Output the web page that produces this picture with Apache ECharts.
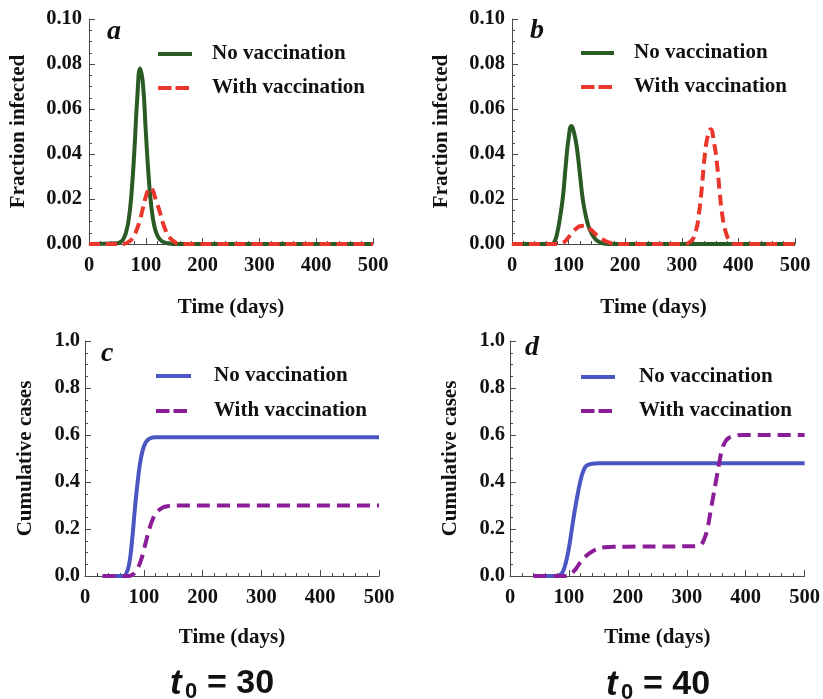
<!DOCTYPE html>
<html>
<head>
<meta charset="utf-8">
<script src="https://cdn.jsdelivr.net/npm/echarts@6/dist/echarts.min.js"></script>
<style>
  html, body { margin: 0; padding: 0; background: #ffffff; }
  #chart { width: 823px; height: 699px; }
</style>
</head>
<body>
<div id="chart"></div>
<script>
// ---- Panel a (t0 = 30): fraction infected ----
const daysANo = [0, 50, 55, 60, 65, 70, 75, 80, 85, 90, 95, 100, 105, 110, 115, 120, 125, 130, 140, 150, 500];
const infANo  = [0, 0.0003, 0.0008, 0.002, 0.005, 0.011, 0.023, 0.042, 0.065, 0.078, 0.071, 0.05, 0.03, 0.016, 0.008, 0.004, 0.002, 0.001, 0.0002, 0, 0];
const daysAVac = [0, 60, 70, 75, 80, 85, 90, 95, 100, 105, 108, 112, 116, 120, 125, 130, 135, 140, 150, 160, 500];
const infAVac  = [0, 0, 0.001, 0.002, 0.004, 0.007, 0.011, 0.016, 0.021, 0.0245, 0.025, 0.024, 0.021, 0.018, 0.014, 0.0095, 0.006, 0.0035, 0.001, 0, 0];

// ---- Panel b (t0 = 40): fraction infected ----
const daysBNo = [0, 70, 75, 80, 85, 90, 95, 100, 105, 110, 115, 120, 125, 130, 135, 140, 145, 150, 160, 170, 500];
const infBNo  = [0, 0, 0.001, 0.005, 0.012, 0.021, 0.035, 0.047, 0.0525, 0.049, 0.042, 0.031, 0.02, 0.013, 0.008, 0.005, 0.003, 0.0015, 0.0003, 0, 0];
const daysBVac = [0, 80, 88, 95, 100, 105, 110, 115, 120, 126, 132, 138, 145, 152, 160, 168, 176, 185,
                  300, 315, 325, 330, 335, 340, 345, 351, 357, 362, 367, 372, 378, 385, 395, 500];
const infBVac  = [0, 0, 0.0003, 0.0015, 0.003, 0.0045, 0.006, 0.0072, 0.0079, 0.0081, 0.0077, 0.0066, 0.005, 0.0034, 0.002, 0.001, 0.0003, 0,
                  0, 0.001, 0.006, 0.013, 0.024, 0.038, 0.047, 0.051, 0.045, 0.036, 0.023, 0.012, 0.005, 0.0015, 0, 0];

// ---- Panel c (t0 = 30): cumulative cases ----
const daysCNo = [30, 65, 70, 75, 80, 85, 90, 95, 100, 105, 110, 120, 130, 500];
const cumCNo  = [0, 0, 0.01, 0.05, 0.15, 0.29, 0.41, 0.5, 0.55, 0.575, 0.585, 0.59, 0.59, 0.59];
const daysCVac = [30, 75, 80, 85, 90, 95, 100, 105, 110, 115, 120, 130, 140, 150, 500];
const cumCVac  = [0, 0, 0.005, 0.015, 0.035, 0.065, 0.11, 0.16, 0.205, 0.24, 0.265, 0.288, 0.297, 0.3, 0.3];

// ---- Panel d (t0 = 40): cumulative cases ----
const daysDNo = [40, 80, 85, 90, 95, 100, 105, 110, 115, 120, 125, 130, 140, 150, 500];
const cumDNo  = [0, 0, 0.005, 0.02, 0.06, 0.12, 0.2, 0.28, 0.35, 0.41, 0.45, 0.47, 0.478, 0.48, 0.48];
const daysDVac = [40, 93, 100, 110, 120, 130, 140, 150, 160, 175, 200, 320, 325, 330, 335, 340, 345, 350, 355, 360, 365, 370, 380, 395, 500];
const cumDVac  = [0, 0, 0.005, 0.025, 0.06, 0.087, 0.105, 0.116, 0.122, 0.125, 0.125, 0.127, 0.135, 0.16, 0.2, 0.27, 0.34, 0.41, 0.48, 0.54, 0.57, 0.585, 0.595, 0.6, 0.6];

// ---- Labels ----
const panelLetters = ['a', 'b', 'c', 'd'];
const seriesNames = ['No vaccination', 'With vaccination'];
const yNames = ['Fraction infected', 'Fraction infected', 'Cumulative cases', 'Cumulative cases'];
const xName = 'Time (days)';
const startLabels = ['30', '40'];

const SERIF = '"Liberation Serif", "Times New Roman", serif';
const SANS = '"Liberation Sans", Arial, sans-serif';
const INK = '#111111';
const AXIS = '#4a4a4a';

const GREEN = '#2b5b24', RED = '#e9372b', BLUE = '#4b56c2', PURPLE = '#8b1e98';

function pairs(days, vals) { return days.map((d, i) => [d, vals[i]]); }

const grids = [
  { left: 89,  top: 19,  width: 284, height: 225 },
  { left: 512, top: 19,  width: 283, height: 225 },
  { left: 85,  top: 341, width: 294, height: 235 },
  { left: 510, top: 341, width: 295, height: 235 }
];

function xAxisFor(i, labelMargin, nameGap) {
  return {
    type: 'value', gridIndex: i, min: 0, max: 500, interval: 100,
    name: xName, nameLocation: 'middle', nameGap: nameGap,
    nameTextStyle: { fontFamily: SERIF, fontWeight: 'bold', fontSize: 21, color: INK },
    axisLine: { show: true, onZero: false, lineStyle: { color: AXIS, width: 1 } },
    axisTick: { show: true, inside: true, length: 6, lineStyle: { color: AXIS } },
    minorTick: { show: true, splitNumber: 5, length: 3, lineStyle: { color: AXIS } },
    splitLine: { show: false },
    axisLabel: { margin: labelMargin, fontFamily: SERIF, fontWeight: 'bold', fontSize: 20.5, color: INK }
  };
}

function yAxisFor(i, max, interval, digits, nameGap, labelMargin) {
  return {
    type: 'value', gridIndex: i, min: 0, max: max, interval: interval,
    name: yNames[i], nameLocation: 'middle', nameGap: nameGap,
    nameTextStyle: { fontFamily: SERIF, fontWeight: 'bold', fontSize: 21, color: INK },
    axisLine: { show: true, lineStyle: { color: AXIS, width: 1 } },
    axisTick: { show: true, inside: true, length: 6, lineStyle: { color: AXIS } },
    minorTick: { show: true, splitNumber: 4, length: 3, lineStyle: { color: AXIS } },
    splitLine: { show: false },
    axisLabel: {
      margin: labelMargin, fontFamily: SERIF, fontWeight: 'bold', fontSize: 20.5, color: INK,
      formatter: v => v.toFixed(digits)
    }
  };
}

function lineSeries(name, i, data, color, dash) {
  return {
    type: 'line', name: name, xAxisIndex: i, yAxisIndex: i,
    data: data, showSymbol: false, symbol: 'none',
    smooth: 0.5,
    lineStyle: { color: color, width: 4, type: dash || 'solid' },
    silent: true, animation: false
  };
}

// legend keys and panel letters
function legendBlock(x1, x2, y1, y2, textX, colSolid, colDash) {
  return [
    { type: 'line', shape: { x1: x1, y1: y1, x2: x2, y2: y1 }, style: { stroke: colSolid, lineWidth: 4 } },
    { type: 'line', shape: { x1: x1, y1: y2, x2: x2, y2: y2 }, style: { stroke: colDash, lineWidth: 4, lineDash: [13.5, 4] } },
    { type: 'text', style: { x: textX, y: y1, text: seriesNames[0], font: 'bold 21px ' + SERIF, fill: INK, verticalAlign: 'middle' } },
    { type: 'text', style: { x: textX, y: y2, text: seriesNames[1], font: 'bold 21px ' + SERIF, fill: INK, verticalAlign: 'middle' } }
  ];
}

function letter(txt, x, y) {
  return { type: 'text', style: { x: x, y: y, text: txt, font: 'italic bold 28px ' + SERIF, fill: INK, verticalAlign: 'middle' } };
}

function startLabel(x, y, value) {
  return [
    { type: 'text', style: { x: x, y: y, text: 't', font: 'italic bold 35px ' + SANS, fill: INK, verticalAlign: 'middle' } },
    { type: 'text', style: { x: x + 15, y: y + 8, text: '0', font: 'bold 22px ' + SANS, fill: INK, verticalAlign: 'middle' } },
    { type: 'text', style: { x: x + 37, y: y, text: '= ' + value, font: 'bold 34px ' + SANS, fill: INK, verticalAlign: 'middle' } }
  ];
}

const graphics = [].concat(
  legendBlock(158, 192, 54, 88, 212, GREEN, RED),
  legendBlock(581, 614, 53, 87, 634, GREEN, RED),
  legendBlock(156, 191, 376, 411, 214, BLUE, PURPLE),
  legendBlock(581, 615, 377, 411, 639, BLUE, PURPLE),
  letter(panelLetters[0], 107, 32),
  letter(panelLetters[1], 530, 31),
  letter(panelLetters[2], 101, 354),
  letter(panelLetters[3], 525, 348),
  startLabel(170, 684, startLabels[0]),
  startLabel(606, 685, startLabels[1])
);

const option = {
  backgroundColor: '#ffffff',
  animation: false,
  grid: grids,
  xAxis: [
    xAxisFor(0, 11, 53), xAxisFor(1, 11, 53),
    xAxisFor(2, 11, 51), xAxisFor(3, 11, 51)
  ],
  yAxis: [
    yAxisFor(0, 0.1, 0.02, 2, 60, 7),
    yAxisFor(1, 0.1, 0.02, 2, 60, 7),
    yAxisFor(2, 1.0, 0.2, 1, 49, 5),
    yAxisFor(3, 1.0, 0.2, 1, 49, 5)
  ],
  series: [
    lineSeries(seriesNames[0], 0, pairs(daysANo, infANo), GREEN),
    lineSeries(seriesNames[1], 0, pairs(daysAVac, infAVac), RED, [11, 6]),
    lineSeries(seriesNames[0], 1, pairs(daysBNo, infBNo), GREEN),
    lineSeries(seriesNames[1], 1, pairs(daysBVac, infBVac), RED, [11, 6]),
    lineSeries(seriesNames[0], 2, pairs(daysCNo, cumCNo), BLUE),
    lineSeries(seriesNames[1], 2, pairs(daysCVac, cumCVac), PURPLE, [13, 7]),
    lineSeries(seriesNames[0], 3, pairs(daysDNo, cumDNo), BLUE),
    lineSeries(seriesNames[1], 3, pairs(daysDVac, cumDVac), PURPLE, [13, 7])
  ],
  graphic: graphics
};

const chart = echarts.init(document.getElementById('chart'), null, { renderer: 'canvas' });
chart.setOption(option);
</script>
</body>
</html>
